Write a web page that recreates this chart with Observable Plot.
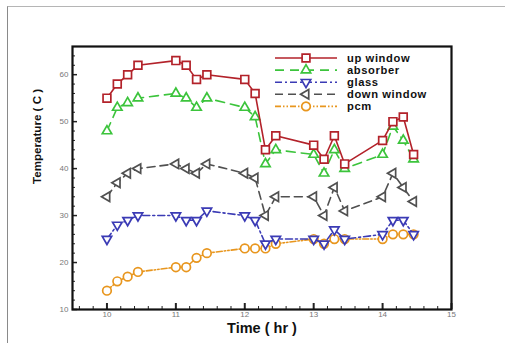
<!DOCTYPE html>
<html><head><meta charset="utf-8">
<script src="https://cdn.jsdelivr.net/npm/d3@7"></script>
<script src="https://cdn.jsdelivr.net/npm/@observablehq/plot@0.6"></script>
<style>
html,body{margin:0;padding:0;background:#fff;}
#wrap{position:relative;width:505px;height:343px;overflow:hidden;background:#fff;}
#border{position:absolute;left:7px;top:6px;right:-2px;bottom:-2px;border-left:1px solid #8a8a8a;border-top:1px solid #b5b5b5;pointer-events:none;}
#chart{position:absolute;left:0;top:0;}
</style></head>
<body>
<div id="wrap"><div id="chart"></div><div id="border"></div></div>
<script>
// ---- data ----
const time = [10, 10.15, 10.3, 10.45, 11, 11.15, 11.3, 11.45, 12, 12.15, 12.3, 12.45, 13, 13.15, 13.3, 13.45, 14, 14.15, 14.3, 14.45];
const upWindow   = [55, 58, 60, 62, 63, 62, 59, 60, 59, 56, 44, 47, 45, 42, 47, 41, 46, 50, 51, 43];
const absorber   = [48, 53, 54, 55, 56, 55, 53, 55, 53, 51, 41, 44, 43, 39, 44, 40, 43, 49, 46, 42];
const glass      = [25, 28, 29, 30, 30, 29, 29, 31, 30, 29, 24, 25, 25, 24, 27, 25, 26, 29, 29, 26];
const downWindow = [34, 37, 39, 40, 41, 40, 39, 41, 39, 38, 30, 34, 34, 30, 36, 31, 34, 39, 36, 33];
const pcm        = [14, 16, 17, 18, 19, 19, 21, 22, 23, 23, 23, 24, 25, 24, 25, 25, 25, 26, 26, 26];
const seriesNames = ["up window", "absorber", "glass", "down window", "pcm"];
const xTicks = [10, 11, 12, 13, 14, 15];
const yTicks = [10, 20, 30, 40, 50, 60];
const xMinor = d3.range(9.6, 15.0001, 0.2).map(v => +v.toFixed(1)).filter(v => !xTicks.includes(v));
const yMinor = d3.range(12, 66, 2).filter(v => v % 10 !== 0);

// ---- custom symbols (triangle down / left) ----
const triDown = {draw(ctx, size) { const y = Math.sqrt(size / (Math.sqrt(3) * 3)); const s = Math.sqrt(3) * y; ctx.moveTo(0, 2 * y); ctx.lineTo(-s, -y); ctx.lineTo(s, -y); ctx.closePath(); }};
const triLeft = {draw(ctx, size) { const y = Math.sqrt(size / (Math.sqrt(3) * 3)); const s = Math.sqrt(3) * y; ctx.moveTo(-2 * y, 0); ctx.lineTo(y, -s); ctx.lineTo(y, s); ctx.closePath(); }};

const styles = [
  {name: seriesNames[0], values: upWindow, color: "#b3222a", dash: null, symbol: "square", r: 4.4},
  {name: seriesNames[1], values: absorber, color: "#3cc43c", dash: "9,6", symbol: "triangle", r: 3.5},
  {name: seriesNames[2], values: glass, color: "#3b3bb5", dash: "7,3,2,3", symbol: triDown, r: 3.5},
  {name: seriesNames[3], values: downWindow, color: "#505050", dash: "8,5", symbol: triLeft, r: 3.5},
  {name: seriesNames[4], values: pcm, color: "#e8961e", dash: "6,2,1.5,2,1.5,2", symbol: "circle", r: 4.3}
];

const marks = [];
// axes
marks.push(Plot.axisY(yMinor, {tickSize: -3, tickFormat: () => "", label: null, stroke: "#222"}));
marks.push(Plot.axisY(yTicks, {tickSize: -5, tickPadding: 9, fontSize: 8, fill: "#777", stroke: "#222", strokeWidth: 1.5, label: null}));
marks.push(Plot.axisX(xMinor, {tickSize: -3, tickFormat: () => "", label: null, stroke: "#222"}));
marks.push(Plot.axisX(xTicks, {tickSize: -6, tickPadding: 8, fontSize: 8, fill: "#777", stroke: "#222", strokeWidth: 2, label: null}));
// series (draw bottom-most first)
for (const s of styles.slice().reverse()) {
  const rows = time.map((t, i) => ({t, v: s.values[i]}));
  marks.push(Plot.line(rows, {x: "t", y: "v", stroke: s.color, strokeWidth: 1.6, strokeDasharray: s.dash}));
  marks.push(Plot.dot(rows, {x: "t", y: "v", stroke: s.color, fill: "white", strokeWidth: 1.7, symbol: s.symbol, r: s.r}));
}
marks.push(Plot.frame({stroke: "#111", strokeWidth: 2.2}));
marks.push(Plot.text(["Time ( hr )"], {frameAnchor: "bottom", lineAnchor: "middle", dy: 19, fontSize: 14.5, fontWeight: "bold", fill: "#111"}));
marks.push(Plot.text(["Temperature ( C )"], {frameAnchor: "left", lineAnchor: "middle", rotate: -90, dx: -35, dy: 6, fontSize: 11.6, fontWeight: "bold", fill: "#111"}));

const chart = Plot.plot({
  width: 505, height: 343,
  marginLeft: 72, marginRight: 54, marginTop: 46, marginBottom: 34,
  style: {fontFamily: "'Liberation Sans', Arial, sans-serif", background: "transparent", overflow: "visible"},
  x: {domain: [9.5, 15], label: null},
  y: {domain: [10, 66], label: null},
  marks
});
document.getElementById("chart").appendChild(chart);

// ---- legend (inside the frame, top-right) ----
const svg = d3.select(chart);
const lg = svg.append("g").attr("font-family", "'Liberation Sans', Arial, sans-serif").attr("text-anchor", "start");
styles.forEach((s, i) => {
  const y = 58 + i * 12.1;
  lg.append("line").attr("x1", 275).attr("x2", 337).attr("y1", y).attr("y2", y)
    .attr("stroke", s.color).attr("stroke-width", 1.6).attr("stroke-dasharray", s.dash);
  const type = typeof s.symbol === "string" ? {square: d3.symbolSquare, triangle: d3.symbolTriangle, circle: d3.symbolCircle}[s.symbol] : s.symbol;
  lg.append("path").attr("transform", `translate(306,${y})`)
    .attr("d", d3.symbol(type, Math.PI * s.r * s.r)())
    .attr("fill", "white").attr("stroke", s.color).attr("stroke-width", 1.7);
  lg.append("text").attr("x", 347).attr("y", y).attr("dy", "0.35em").attr("text-anchor", "start")
    .attr("font-size", 11.2).attr("letter-spacing", 0.6).attr("font-weight", "bold").attr("fill", "#111").text(s.name);
});
</script>
</body></html>
